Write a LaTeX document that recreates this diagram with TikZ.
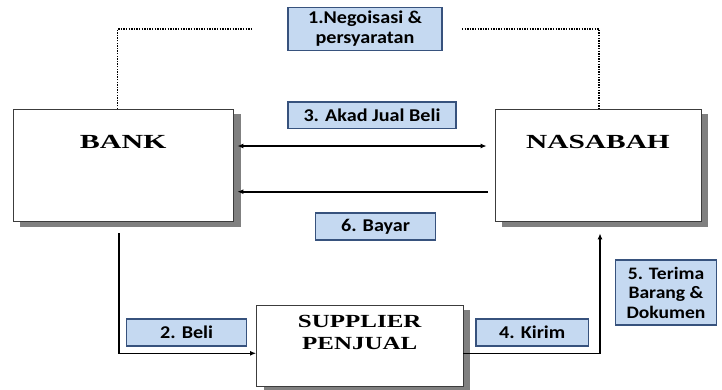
\documentclass[tikz,border=0pt]{standalone}
\usepackage{fontspec}
\setmainfont{Liberation Serif}
\newfontfamily\labfont{Carlito}
\usetikzlibrary{arrows.meta,shadows,calc}
\definecolor{labfill}{RGB}{197,217,241}
\definecolor{labdraw}{RGB}{55,82,125}
\definecolor{shadowgray}{RGB}{128,128,128}
\definecolor{boxline}{RGB}{60,60,60}
\newcommand{\bx}[2]{\scalebox{#1}[1]{#2}}
\newcommand{\lx}[1]{\scalebox{1.12}[1]{#1}}
\begin{document}
\begin{tikzpicture}[x=1pt,y=-1pt,
  entity/.style={draw=boxline, line width=0.8pt, fill=white, inner sep=0pt, align=center,
    general shadow={fill=shadowgray, shadow xshift=7pt, shadow yshift=-5pt},
    font=\fontsize{20}{24}\selectfont\bfseries},
  lab/.style={draw=labdraw, fill=labfill, line width=1.2pt, inner sep=0pt, align=center,
    font=\labfont\fontsize{18}{20}\selectfont\bfseries},
  flow/.style={line width=1.3pt, -{Latex[length=6pt,width=5pt]}},
  dflow/.style={line width=1.3pt, {Latex[length=6pt,width=5pt]}-{Latex[length=6pt,width=5pt]}},
  dots/.style={line width=1.5pt, dash pattern=on 1.3pt off 1.3pt}]
\useasboundingbox[fill=white] (0,0) rectangle (722,389);

% main boxes
\node[entity, text width=220.6pt, text height=39pt, text depth=73.4pt] (bank) at (123.2,165.5) {\bx{1.5}{BANK}};
\node[entity, text width=206pt, text height=39pt, text depth=73.4pt] (nasabah) at (598,165.5) {\bx{1.47}{NASABAH}};
\node[entity, text width=206.5pt, text height=22.8pt, text depth=58.9pt,
  font=\fontsize{18.5}{21.6}\selectfont\bfseries] (supplier) at (359.75,345.85) {\bx{1.35}{SUPPLIER}\\\bx{1.35}{PENJUAL}};

% labels
\node[lab, minimum width=154pt, minimum height=43pt] (l1) at (365,28.7) {\lx{1.Negoisasi \&}\\\lx{persyaratan}};
\node[lab, minimum width=168pt, minimum height=26.5pt] (l3) at (372,115.2) {\lx{3. Akad Jual Beli}};
\node[lab, minimum width=120pt, minimum height=27pt] (l6) at (375.5,226.5) {\lx{6. Bayar}};
\node[lab, minimum width=120pt, minimum height=27pt] (l2) at (186.6,332.5) {\lx{2. Beli}};
\node[lab, minimum width=112.5pt, minimum height=27pt] (l4) at (532.2,332.5) {\lx{4. Kirim}};
\node[lab, minimum width=100.5pt, minimum height=65pt, font=\labfont\fontsize{17.5}{19.5}\selectfont\bfseries] (l5) at (666,292.5) {\lx{5. Terima}\\\lx{Barang \&}\\\lx{Dokumen}};

% coordinates
\coordinate (d1) at (117.5,29);
\coordinate (d2) at (251,29);
\coordinate (d3) at (462,29);
\coordinate (d4) at (599,29);
\coordinate (y3) at (0,146);
\coordinate (y6) at (0,191.7);
\coordinate (c2) at (119,353.3);
\coordinate (c4) at (600,353.3);

% dotted negotiation lines
\draw[dots] (bank.north -| d1) -- (d1) -- (d2);
\draw[dots] (d3) -- (d4) -- (nasabah.north -| d4);

% akad and bayar
\draw[dflow] ($(bank.east |- y3)+(3.5,0)$) -- ($(nasabah.west |- y3)+(-8,0)$);
\draw[flow, line width=1.8pt] ($(nasabah.west |- y6)+(-7,0)$) -- ($(bank.east |- y6)+(3.5,0)$);

% beli
\draw[flow] ($(bank.south -| c2)+(0,11.3)$) -- (c2) -- (supplier.west |- c2);
% kirim / terima
\draw[flow] (supplier.east |- c4) -- (c4) -- ($(nasabah.south -| c4)+(0,11.3)$);
\end{tikzpicture}
\end{document}
